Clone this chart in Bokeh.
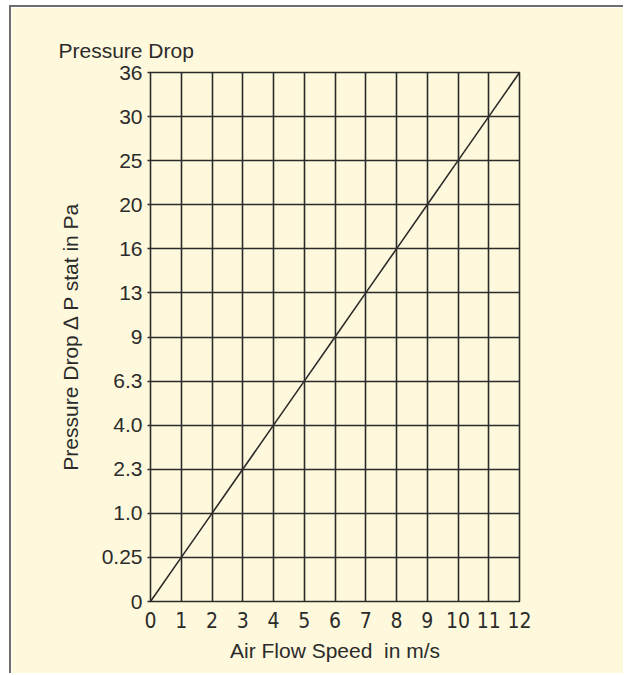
from bokeh.plotting import figure
from bokeh.models import Range1d, FixedTicker, Title
from bokeh.embed import file_html
from bokeh.resources import INLINE
import numpy as np

# Data
speed = [0, 1, 2, 3, 4, 5, 6, 7, 8, 9, 10, 11, 12]
pressure = [0, 0.25, 1, 2.25, 4, 6.25, 9, 12.25, 16, 20.25, 25, 30.25, 36]
x_ticks = [0, 1, 2, 3, 4, 5, 6, 7, 8, 9, 10, 11, 12]
y_tick_values = [0, 0.25, 1, 2.25, 4, 6.25, 9, 12.25, 16, 20.25, 25, 30.25, 36]
y_tick_labels = ["0", "0.25", "1.0", "2.3", "4.0", "6.3", "9", "13", "16", "20", "25", "30", "36"]

BG = "#FEF9DC"
INK = "#2b2b2b"
FONT = "Liberation Sans"
NARROW = "DejaVu Sans Condensed"

# square-root pressure axis (axis units: sqrt(Pa))
y_pos = list(np.sqrt(pressure))
y_tick_pos = list(np.sqrt(y_tick_values))

p = figure(width=614, height=668,
           x_range=Range1d(0, 12), y_range=Range1d(0, 6),
           output_backend="svg", toolbar_location=None,
           min_border_left=139, min_border_right=106,
           min_border_top=65, min_border_bottom=74)

p.styles = {"margin-left": "9px", "margin-top": "5px",
            "border-left": "2px solid #6e6e6e", "border-top": "2px solid #6e6e6e"}

p.background_fill_color = BG
p.border_fill_color = BG
p.outline_line_color = INK
p.outline_line_width = 1.6

p.line(speed, y_pos, line_color=INK, line_width=1.6)

# x axis
p.xaxis.ticker = FixedTicker(ticks=x_ticks)
p.xaxis.axis_line_color = None
p.xaxis.major_tick_out = 0
p.xaxis.major_tick_in = 0
p.xaxis.minor_tick_line_color = None
p.xaxis.major_label_text_font = NARROW
p.xaxis.major_label_text_font_size = "21px"
p.xaxis.major_label_text_color = INK
p.xaxis.major_label_standoff = 10
p.xaxis.axis_label = "Air Flow Speed\u00a0 in m/s"
p.xaxis.axis_label_text_font = FONT
p.xaxis.axis_label_text_font_size = "21px"
p.xaxis.axis_label_text_font_style = "normal"
p.xaxis.axis_label_text_color = INK
p.xaxis.axis_label_standoff = 8

# y axis
p.yaxis.ticker = FixedTicker(ticks=y_tick_pos)
p.yaxis.major_label_overrides = {float(v): t for v, t in zip(y_tick_pos, y_tick_labels)}
p.yaxis.axis_line_color = None
p.yaxis.major_tick_out = 3
p.yaxis.major_tick_in = 0
p.yaxis.major_tick_line_color = INK
p.yaxis.major_tick_line_width = 1.6
p.yaxis.minor_tick_line_color = None
p.yaxis.major_label_text_font = FONT
p.yaxis.major_label_text_font_size = "21px"
p.yaxis.major_label_text_color = INK
p.yaxis.major_label_standoff = 5
p.yaxis.axis_label = "Pressure Drop \u2206 P stat in Pa"
p.yaxis.axis_label_text_font = FONT
p.yaxis.axis_label_text_font_size = "21px"
p.yaxis.axis_label_text_font_style = "normal"
p.yaxis.axis_label_text_color = INK
p.yaxis.axis_label_standoff = 17

# grid
p.xgrid.ticker = FixedTicker(ticks=x_ticks)
p.ygrid.ticker = FixedTicker(ticks=y_tick_pos)
p.grid.grid_line_color = INK
p.grid.grid_line_width = 1.6
p.grid.grid_line_alpha = 1.0

# title
p.add_layout(Title(text="Pressure Drop", align="left", offset=-92,
                   text_font=FONT, text_font_size="21px",
                   text_font_style="normal", text_color=INK, standoff=22), "above")

open("out.html", "w").write(file_html(p, INLINE))
